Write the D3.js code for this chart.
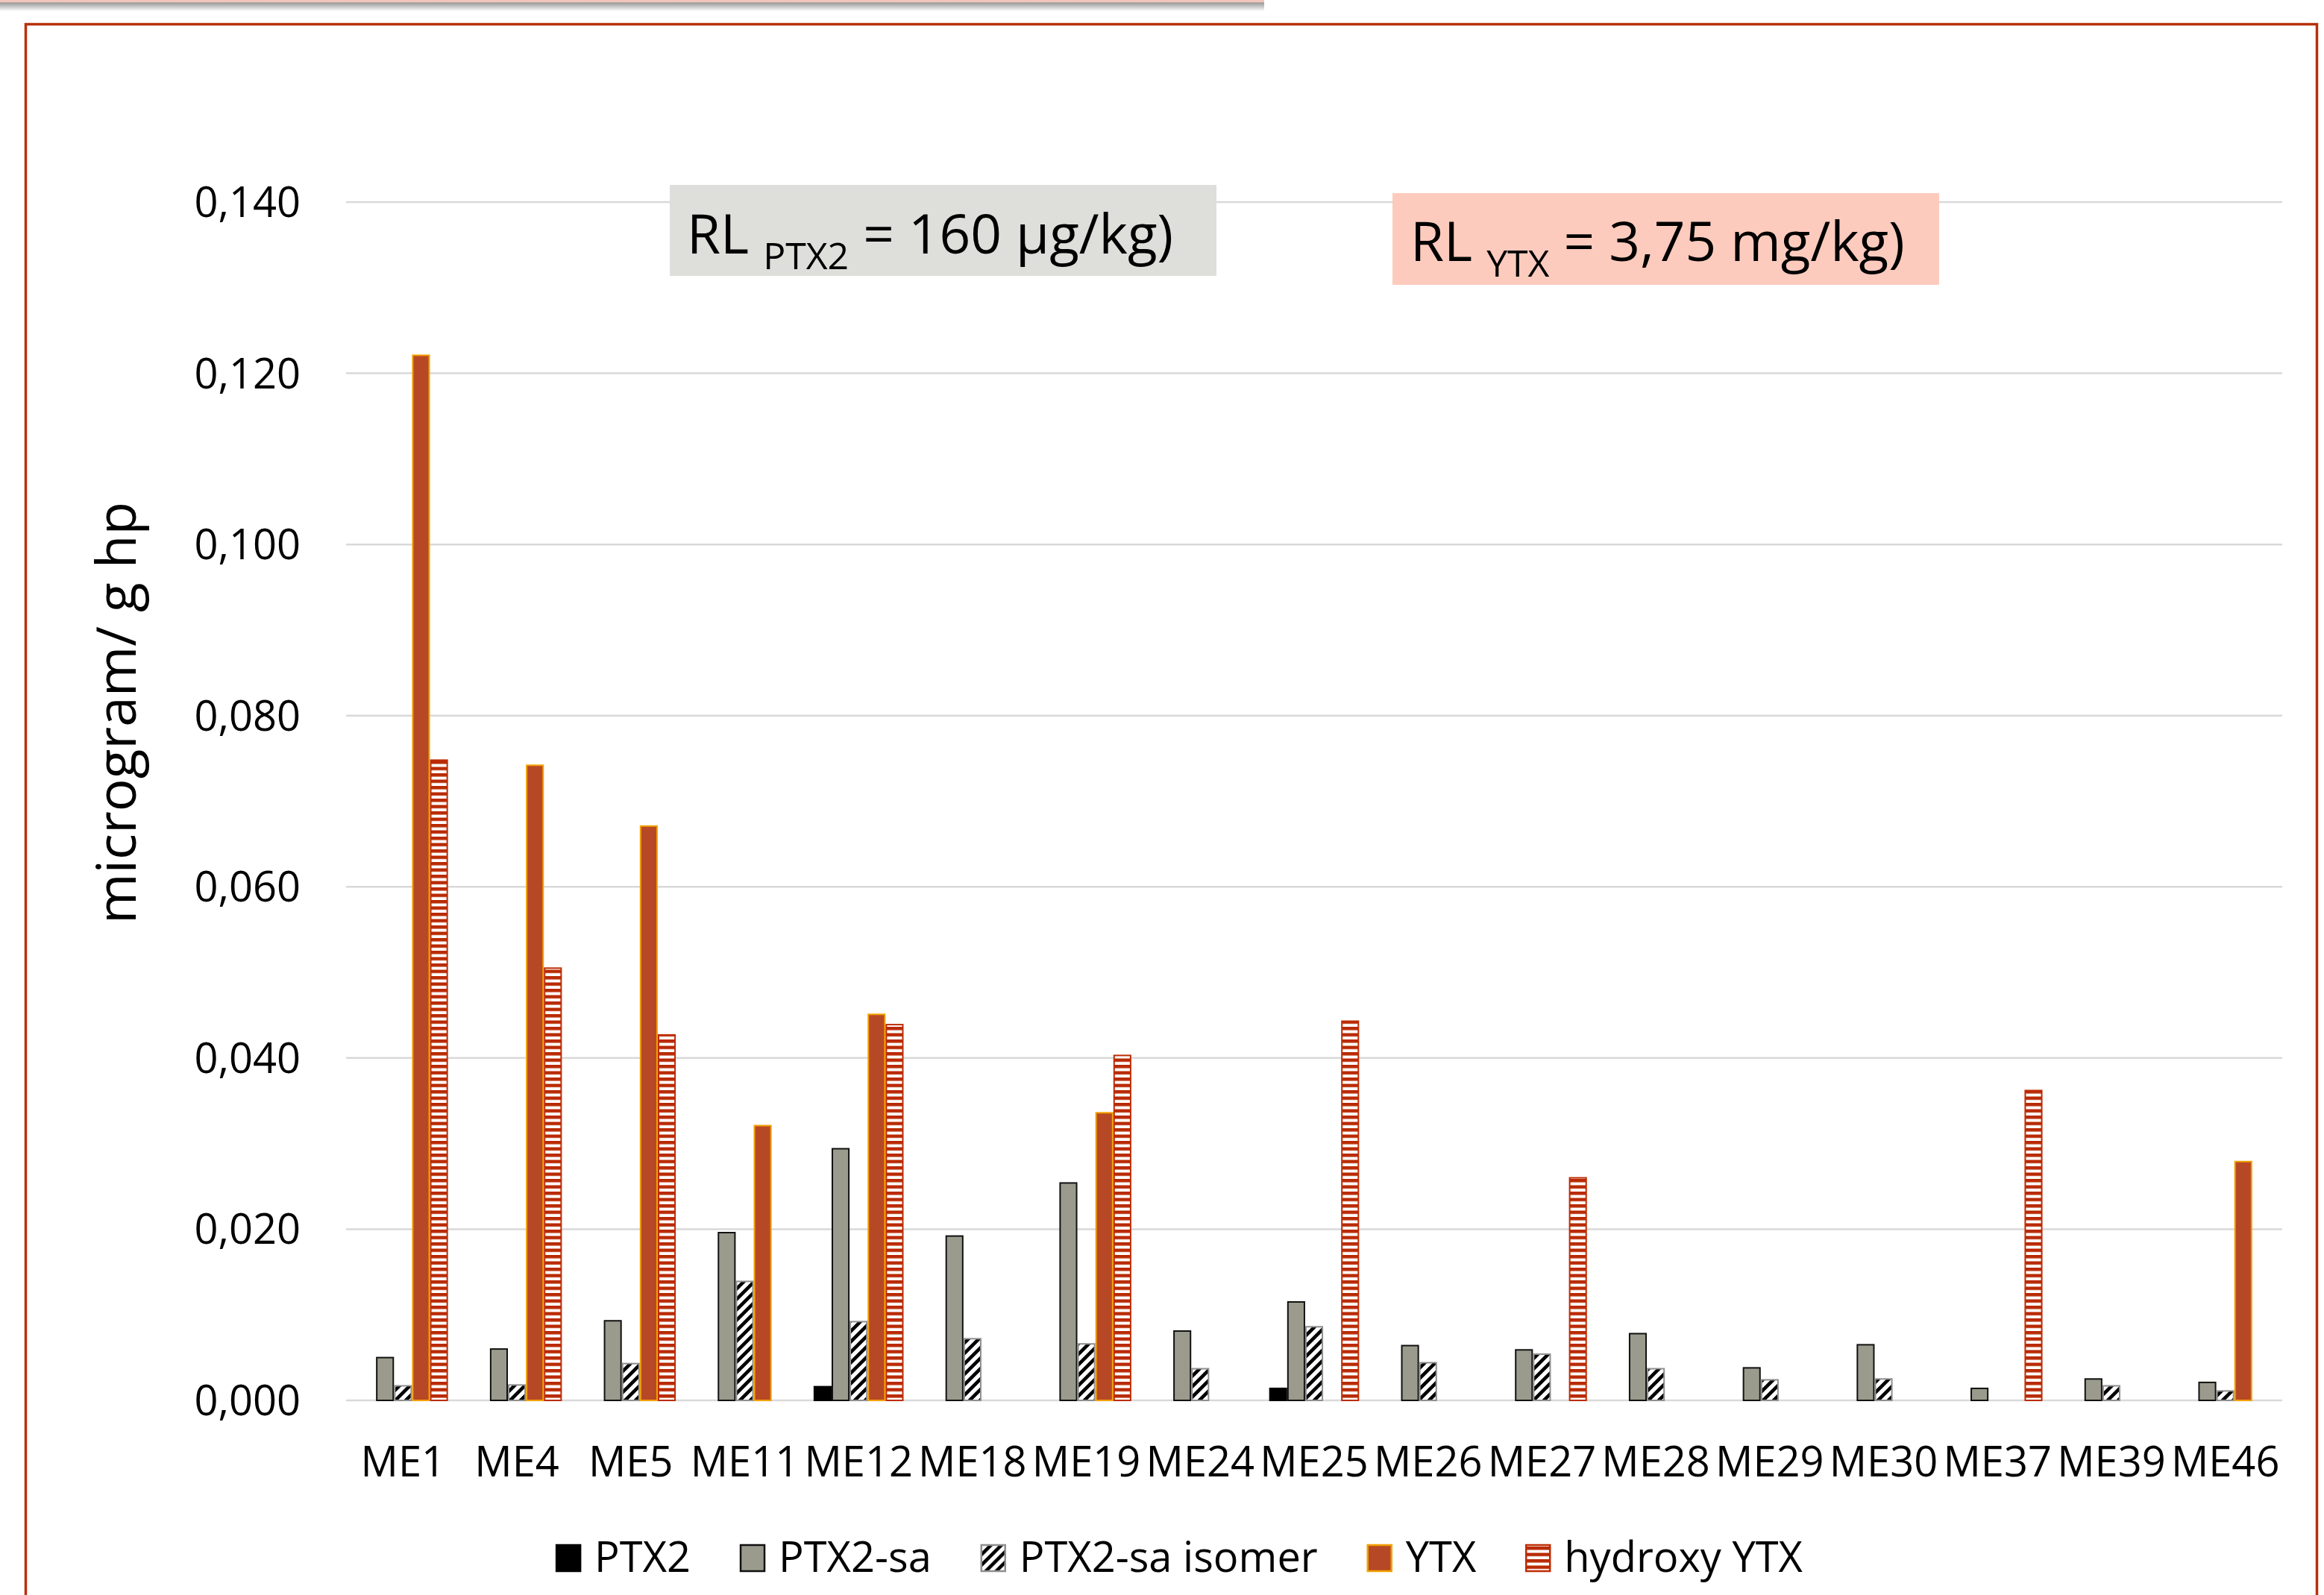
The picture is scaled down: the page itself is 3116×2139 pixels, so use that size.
<!DOCTYPE html>
<html>
<head>
<meta charset="utf-8">
<script src="https://cdn.jsdelivr.net/npm/d3@7"></script>
<style>
  body { margin: 0; background: #fff; }
  text { font-family: "Open Sans", sans-serif; fill: #000; }
  .tick { font-size: 56px; }
  .grid { stroke: #d9d9d9; stroke-width: 2.5; }
</style>
</head>
<body>
<script>
// sample sites
const categories = ["ME1","ME4","ME5","ME11","ME12","ME18","ME19","ME24","ME25","ME26","ME27","ME28","ME29","ME30","ME37","ME39","ME46"];
const seriesNames = ["PTX2","PTX2-sa","PTX2-sa isomer","YTX","hydroxy YTX"];

// microgram / g hp
const ptx2     = [0,0,0,0,0.0016,0,0,0,0.0014,0,0,0,0,0,0,0,0];
const ptx2sa   = [0.0050,0.0060,0.0093,0.0196,0.0294,0.0192,0.0254,0.0081,0.0115,0.0064,0.0059,0.0078,0.0038,0.0065,0.0014,0.0025,0.0021];
const ptx2saIs = [0.0017,0.0018,0.0043,0.0139,0.0092,0.0072,0.0066,0.0037,0.0086,0.0044,0.0054,0.0037,0.0024,0.0025,0,0.0017,0.0011];
const ytx      = [0.1221,0.0742,0.0671,0.0321,0.0451,0,0.0336,0,0,0,0,0,0,0,0,0,0.0279];
const hydroxy  = [0.0748,0.0505,0.0427,0,0.0439,0,0.0403,0,0.0443,0,0.0260,0,0,0,0.0362,0,0];

const yTicks = [0,0.02,0.04,0.06,0.08,0.10,0.12,0.14];

const W = 3116, H = 2139;
const svg = d3.select("body").append("svg").attr("width", W).attr("height", H);
const defs = svg.append("defs");

// top shadow strip
let sh = defs.append("linearGradient").attr("id","shadow").attr("x1",0).attr("y1",0).attr("x2",0).attr("y2",1);
sh.append("stop").attr("offset","0").attr("stop-color","#f3c7bd");
sh.append("stop").attr("offset","0.18").attr("stop-color","#f0c4ba");
sh.append("stop").attr("offset","0.25").attr("stop-color","#9a9a9a");
sh.append("stop").attr("offset","1").attr("stop-color","#ffffff");
svg.append("rect").attr("x",0).attr("y",0).attr("width",1695).attr("height",15).attr("fill","url(#shadow)");

// patterns
let hatch = defs.append("pattern").attr("id","hatch").attr("patternUnits","userSpaceOnUse")
  .attr("width",14).attr("height",14);
hatch.append("rect").attr("width",14).attr("height",14).attr("fill","#fff");
hatch.append("path").attr("d","M-4,4 L4,-4 M0,14 L14,0 M10,18 L18,10")
  .attr("stroke","#000").attr("stroke-width",4.6);

let stripes = defs.append("pattern").attr("id","stripes").attr("patternUnits","userSpaceOnUse")
  .attr("width",10).attr("height",8.5);
stripes.append("rect").attr("width",10).attr("height",8.5).attr("fill","#b92a02");
stripes.append("rect").attr("y",4.5).attr("width",10).attr("height",4).attr("fill","#fff");

const styles = [
  {fill:"#000000", stroke:"#000000"},
  {fill:"#9b9b8d", stroke:"#111111"},
  {fill:"url(#hatch)", stroke:"#8f8f8f"},
  {fill:"#b74826", stroke:"#f2a100"},
  {fill:"url(#stripes)", stroke:"#bd2c04"}
];

// chart frame
svg.append("rect").attr("x",34.5).attr("y",32.5).attr("width",3072).attr("height",2200)
  .attr("fill","none").attr("stroke","#b8300c").attr("stroke-width",3.5);

const x0 = d3.scaleBand().domain(categories).range([464,3060]).paddingInner(0.21).paddingOuter(0.105);
const x1 = d3.scaleBand().domain(seriesNames).range([0, x0.bandwidth()]);
const y = d3.scaleLinear().domain([0,0.14]).range([1878,271]);

const loc = d3.formatLocale({decimal:",", thousands:".", grouping:[3], currency:["","€"]});
const fmt = loc.format(".3f");

// gridlines
svg.append("g").selectAll("line").data(yTicks).join("line")
  .attr("class","grid")
  .attr("x1",464).attr("x2",3060)
  .attr("y1",d=>y(d)).attr("y2",d=>y(d));

// y labels
svg.append("g").selectAll("text").data(yTicks).join("text")
  .attr("class","tick")
  .attr("x",403).attr("y",d=>y(d)+20)
  .attr("text-anchor","end")
  .text(d=>fmt(d));

// axis title
svg.append("text")
  .attr("transform","translate(182,956) rotate(-90)")
  .attr("text-anchor","middle")
  .attr("font-size",73)
  .text("microgram/ g hp");

// bars
const allSeries = [ptx2, ptx2sa, ptx2saIs, ytx, hydroxy];
allSeries.forEach((vals, si) => {
  svg.append("g").selectAll("rect")
    .data(vals.map((v,i)=>({cat:categories[i], v:v})).filter(d=>d.v>0))
    .join("rect")
    .attr("x", d => x0(d.cat) + x1(seriesNames[si]) + 1)
    .attr("width", x1.bandwidth() - 2)
    .attr("y", d => y(d.v))
    .attr("height", d => y(0) - y(d.v))
    .attr("fill", styles[si].fill)
    .attr("stroke", styles[si].stroke)
    .attr("stroke-width", 2);
});

// category labels
svg.append("g").selectAll("text").data(categories).join("text")
  .attr("class","tick")
  .attr("x", d => x0(d) + x0.bandwidth()/2)
  .attr("y", 1980)
  .attr("text-anchor","middle")
  .text(d=>d);

// reference level boxes
function rlBox(bx, by, bw, bh, fill, tx, ty, sub, rest) {
  svg.append("rect").attr("x",bx).attr("y",by).attr("width",bw).attr("height",bh).attr("fill",fill);
  let t = svg.append("text").attr("x",tx).attr("y",ty).attr("font-size",73);
  t.append("tspan").text("RL ");
  t.append("tspan").attr("font-size",50).attr("dy",21).text(sub);
  t.append("tspan").attr("dy",-21).text(" " + rest);
}
rlBox(898, 248, 733, 122, "#dededa", 921, 340, "PTX2", "= 160 µg/kg)");
rlBox(1867, 259, 733, 123, "#fdcbbd", 1891, 350, "YTX", "= 3,75 mg/kg)");

// legend
const leg = svg.append("g");
let lx = 0;
seriesNames.forEach((name, i) => {
  const g = leg.append("g").attr("transform", `translate(${lx},0)`);
  g.append("rect").attr("x",1).attr("y",2072).attr("width",32).attr("height",35)
    .attr("fill", styles[i].fill).attr("stroke", styles[i].stroke).attr("stroke-width",2.5);
  const t = g.append("text").attr("class","tick").attr("x",52).attr("y",2108).text(name);
  lx += 52 + t.node().getComputedTextLength() + 66;
});
const legW = lx - 66;
leg.attr("transform", `translate(${1581 - legW/2},0)`);
</script>
</body>
</html>
